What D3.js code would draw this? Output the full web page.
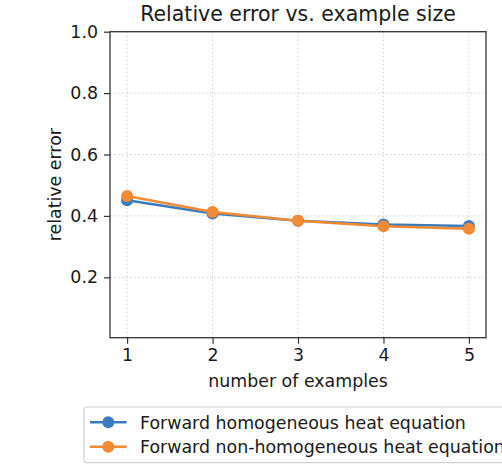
<!DOCTYPE html>
<html>
<head>
<meta charset="utf-8">
<script src="https://cdn.jsdelivr.net/npm/d3@7"></script>
<style>
  html, body { margin: 0; padding: 0; background: #fff; overflow: hidden; }
  svg { display: block; font-family: "DejaVu Sans", sans-serif; }
</style>
</head>
<body>
<svg id="chart" width="502" height="471"></svg>
<script>
const examples = [1, 2, 3, 4, 5];
const homogeneous = [0.451, 0.408, 0.384, 0.372, 0.367];
const nonHomogeneous = [0.465, 0.413, 0.384, 0.366, 0.358];
const yTicks = [0.2, 0.4, 0.6, 0.8, 1.0];
const seriesNames = ["Forward homogeneous heat equation", "Forward non-homogeneous heat equation"];
const seriesColors = ["#3a7bbf", "#f08a35"];

(function () {
const svg = d3.select("#chart");
const pL = 110, pR = 486, pT = 31.7, pB = 337.7;
const fs = "17.4px";

const x = d3.scaleLinear().domain([0.8, 5.2]).range([pL, pR]);
const y = d3.scaleLinear().domain([0.0033, 1.0]).range([pB, pT]);

// grid
const grid = svg.append("g");
grid.selectAll("line.vx").data(examples).enter().append("line")
  .attr("x1", d => x(d)).attr("x2", d => x(d)).attr("y1", pT).attr("y2", pB)
  .attr("stroke", "#cccccc").attr("stroke-width", 1).attr("stroke-dasharray", "1.5,2.5");
grid.selectAll("line.hy").data(yTicks).enter().append("line")
  .attr("x1", pL).attr("x2", pR).attr("y1", d => y(d)).attr("y2", d => y(d))
  .attr("stroke", "#cccccc").attr("stroke-width", 1).attr("stroke-dasharray", "1.5,2.5");

// axes
const xAxis = d3.axisBottom(x).tickValues(examples).tickFormat(d3.format("d")).tickSize(6).tickPadding(5);
const yAxis = d3.axisLeft(y).tickValues(yTicks).tickFormat(d3.format(".1f")).tickSize(6).tickPadding(6);

const gx = svg.append("g").attr("transform", `translate(0,${pB})`).call(xAxis);
const gy = svg.append("g").attr("transform", `translate(${pL},0)`).call(yAxis);
[gx, gy].forEach(g => {
  g.select(".domain").remove();
  g.selectAll(".tick line").attr("stroke", "#333").attr("stroke-width", 1.2);
  g.selectAll(".tick text").attr("fill", "#1a1a1a").style("font-size", fs).style("font-family", "DejaVu Sans");
});

// frame
svg.append("rect").attr("x", pL).attr("y", pT).attr("width", pR - pL).attr("height", pB - pT)
  .attr("fill", "none").attr("stroke", "#333").attr("stroke-width", 1.3);

// series
const allSeries = [homogeneous, nonHomogeneous];
const line = d3.line().x((d, i) => x(examples[i])).y(d => y(d));
allSeries.forEach((s, k) => {
  svg.append("path").datum(s).attr("d", line).attr("fill", "none")
    .attr("stroke", seriesColors[k]).attr("stroke-width", 2.5);
  svg.selectAll(null).data(s).enter().append("circle")
    .attr("cx", (d, i) => x(examples[i])).attr("cy", d => y(d)).attr("r", 6)
    .attr("fill", seriesColors[k]);
});

// title and labels
svg.append("text").attr("x", (pL + pR) / 2).attr("y", 21).attr("text-anchor", "middle")
  .style("font-size", "20.5px").attr("fill", "#1a1a1a").text("Relative error vs. example size");
svg.append("text").attr("x", (pL + pR) / 2).attr("y", 387).attr("text-anchor", "middle")
  .style("font-size", fs).attr("fill", "#1a1a1a").text("number of examples");
svg.append("text").attr("transform", `translate(61,${(pT + pB) / 2}) rotate(-90)`).attr("text-anchor", "middle")
  .style("font-size", fs).attr("fill", "#1a1a1a").text("relative error");

// legend
const lg = svg.append("g");
lg.append("rect").attr("x", 84).attr("y", 407).attr("width", 440).attr("height", 55.7).attr("rx", 3)
  .attr("fill", "#fff").attr("stroke", "#d0d0d0").attr("stroke-width", 1.2);
const rowsY = [422.3, 446.7];
seriesNames.forEach((name, k) => {
  lg.append("line").attr("x1", 90).attr("x2", 126.7).attr("y1", rowsY[k]).attr("y2", rowsY[k])
    .attr("stroke", seriesColors[k]).attr("stroke-width", 2.5);
  lg.append("circle").attr("cx", 108.3).attr("cy", rowsY[k]).attr("r", 6).attr("fill", seriesColors[k]);
  lg.append("text").attr("x", 140).attr("y", rowsY[k]).attr("dy", "0.36em")
    .style("font-size", fs).attr("fill", "#1a1a1a").text(name);
});
})();
</script>
</body>
</html>
